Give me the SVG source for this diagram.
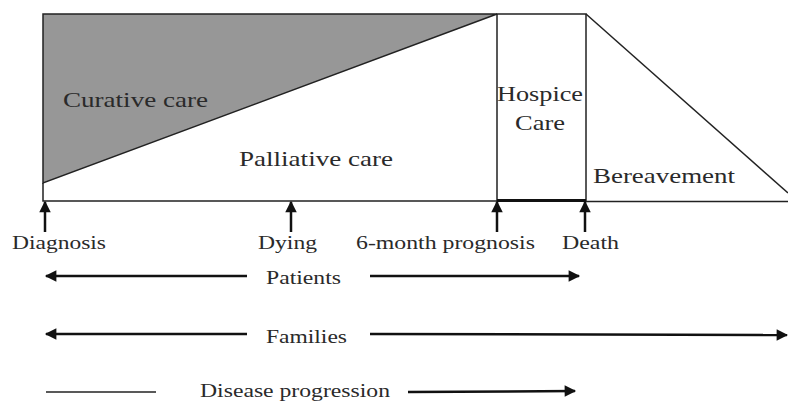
<svg xmlns="http://www.w3.org/2000/svg" width="788" height="402" viewBox="0 0 788 402">
<defs>
<style>
.ln{stroke:#222;stroke-width:1.5;fill:none}
.ar{stroke:#111;stroke-width:2.5;fill:none}
.t{font-family:"Liberation Serif","Times New Roman",serif;fill:#2a2a2a}
.big{font-size:22px}
.sm{font-size:18px}
</style>
<marker id="ah" viewBox="0 0 10 10" refX="9" refY="5" markerWidth="5.4" markerHeight="4.6" markerUnits="strokeWidth" orient="auto">
<path d="M0,0 L10,5 L0,10 z" fill="#111"/>
</marker>
</defs>
<rect width="788" height="402" fill="#fff"/>
<g id="curative">
<polygon points="43,14 497,14 43,183" fill="#979797" stroke="#222" stroke-width="1.5"/>
<text class="t big" x="63" y="107" textLength="145" lengthAdjust="spacingAndGlyphs">Curative care</text>
</g>
<g id="palliative">
<polyline class="ln" points="43,183 43,201 497,201"/>
<text class="t big" x="239" y="166" textLength="154" lengthAdjust="spacingAndGlyphs">Palliative care</text>
</g>
<g id="hospice">
<rect x="497" y="14" width="89" height="187" fill="none" stroke="#222" stroke-width="1.5"/>
<line x1="497" y1="200.5" x2="586" y2="200.5" stroke="#111" stroke-width="3"/>
<text class="t" font-size="21" x="497" y="101" textLength="86" lengthAdjust="spacingAndGlyphs">Hospice</text>
<text class="t" font-size="21" x="515" y="130" textLength="50" lengthAdjust="spacingAndGlyphs">Care</text>
</g>
<g id="bereavement">
<polyline class="ln" points="586,14 788,193"/>
<line class="ln" x1="586" y1="201.5" x2="788" y2="201.5"/>
<text class="t" font-size="21" x="593" y="183" textLength="142" lengthAdjust="spacingAndGlyphs">Bereavement</text>
</g>
<g id="diagnosis">
<line class="ar" x1="45" y1="232" x2="45" y2="202" marker-end="url(#ah)"/>
<text class="t sm" x="12" y="249" textLength="94" lengthAdjust="spacingAndGlyphs">Diagnosis</text>
</g>
<g id="dying">
<line class="ar" x1="291" y1="232" x2="291" y2="202" marker-end="url(#ah)"/>
<text class="t sm" x="258" y="249" textLength="59" lengthAdjust="spacingAndGlyphs">Dying</text>
</g>
<g id="prognosis">
<line class="ar" x1="497" y1="232" x2="497" y2="202" marker-end="url(#ah)"/>
<text class="t sm" x="356" y="249" textLength="179" lengthAdjust="spacingAndGlyphs">6-month prognosis</text>
</g>
<g id="death">
<line class="ar" x1="585" y1="232" x2="585" y2="202" marker-end="url(#ah)"/>
<text class="t sm" x="562" y="249" textLength="57" lengthAdjust="spacingAndGlyphs">Death</text>
</g>
<g id="patients">
<text class="t sm" x="266" y="284" textLength="75" lengthAdjust="spacingAndGlyphs">Patients</text>
</g>
<g id="families">
<text class="t sm" x="266" y="343" textLength="81" lengthAdjust="spacingAndGlyphs">Families</text>
</g>
<g id="progression">
<text class="t sm" x="200" y="397" textLength="190" lengthAdjust="spacingAndGlyphs">Disease progression</text>
</g>
<g id="connectors">
<line class="ar" x1="247" y1="276" x2="46" y2="276" marker-end="url(#ah)"/>
<line class="ar" x1="370" y1="276" x2="579" y2="276" marker-end="url(#ah)"/>
<line class="ar" x1="247" y1="334" x2="46" y2="334" marker-end="url(#ah)"/>
<line class="ar" x1="370" y1="334" x2="787" y2="335" marker-end="url(#ah)"/>
<line class="ln" x1="46" y1="392" x2="156" y2="392" stroke-width="2"/>
<line class="ar" x1="408" y1="392" x2="575" y2="391" marker-end="url(#ah)"/>
</g>
</svg>
